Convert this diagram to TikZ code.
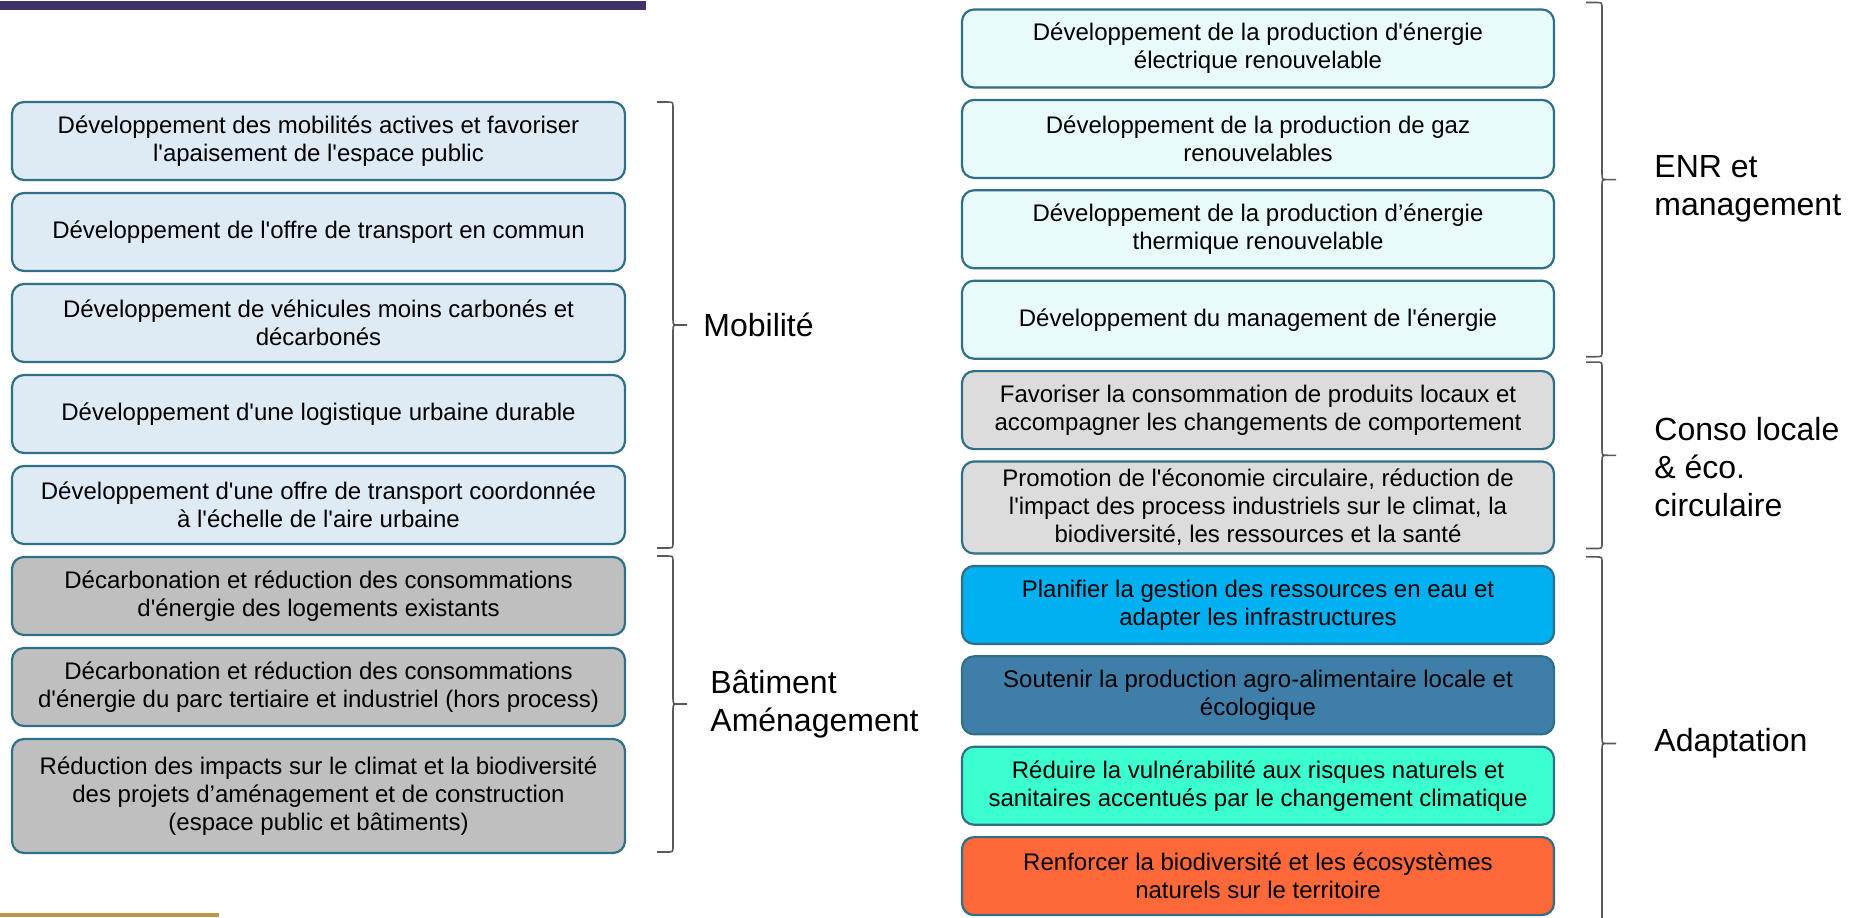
\documentclass[tikz,border=0pt]{standalone}
\usepackage{fontspec}
\setmainfont{Liberation Sans}[Ligatures=TeXOff]
\usepackage{xcolor}
\usetikzlibrary{positioning,calc}
\definecolor{bord}{RGB}{47,112,136}
\definecolor{mobfill}{RGB}{222,235,245}
\definecolor{batfill}{RGB}{191,191,191}
\definecolor{enrfill}{RGB}{232,250,249}
\definecolor{consofill}{RGB}{220,220,220}
\definecolor{eau}{RGB}{0,176,240}
\definecolor{agro}{RGB}{62,126,168}
\definecolor{risque}{RGB}{60,255,208}
\definecolor{biodiv}{RGB}{255,105,58}
\definecolor{violet}{RGB}{65,50,105}
\definecolor{dore}{RGB}{190,150,70}
\definecolor{trait}{RGB}{89,89,89}

\newcommand\accolade[2]{%
    \draw[accolade] let \p1=(#1), \p2=(#2), \n1={0.5*(\y1+\y2)} in
        (\p1) -- (\x1+5pt,\y1) .. controls (\x1+8pt,\y1) .. (\x1+8pt,\y1-3pt) -- (\x1+8pt,\n1+3pt)
        .. controls (\x1+8pt,\n1) .. (\x1+11pt,\n1) -- (\x1+15pt,\n1)
        (\x1+11pt,\n1) .. controls (\x1+8pt,\n1) .. (\x1+8pt,\n1-3pt) -- (\x1+8pt,\y2+3pt)
        .. controls (\x1+8pt,\y2) .. (\x1+5pt,\y2) -- (\p2);}

\begin{document}
\begin{tikzpicture}[x=0.5pt, y=-0.5pt,
        every node/.style={font=\fontsize{12}{14}\selectfont, align=center},
        box/.style={draw=bord, line width=1.1pt, rounded corners=6pt, minimum width=306.5pt, minimum height=39pt, inner sep=2pt, outer sep=0pt},
        rbox/.style={box, minimum width=296pt},
        accolade/.style={draw=trait, line width=0.8pt},
        groupe/.style={font=\fontsize{16}{19}\selectfont, align=left, anchor=west, inner sep=0pt}]
    \useasboundingbox (0,0) rectangle (1856,917);
    \fill[violet] (0,1) rectangle (646,10);
    \fill[dore] (0,913) rectangle (219,917);

    \node[box, fill=mobfill] (m1) at (318.5,141) {Développement des mobilités actives et favoriser\\l'apaisement de l'espace public};
    \node[box, fill=mobfill, below=6.5pt of m1] (m2) {Développement de l'offre de transport en commun};
    \node[box, fill=mobfill, below=6.5pt of m2] (m3) {Développement de véhicules moins carbonés et\\décarbonés};
    \node[box, fill=mobfill, below=6.5pt of m3] (m4) {Développement d'une logistique urbaine durable};
    \node[box, fill=mobfill, below=6.5pt of m4] (m5) {Développement d'une offre de transport coordonnée\\à l'échelle de l'aire urbaine};
    \node[box, fill=batfill, below=6.5pt of m5] (m6) {Décarbonation et réduction des consommations\\d'énergie des logements existants};
    \node[box, fill=batfill, below=6.5pt of m6] (m7) {Décarbonation et réduction des consommations\\d'énergie du parc tertiaire et industriel (hors process)};
    \node[box, fill=batfill, below=6.5pt of m7, minimum height=57pt] (m8) {Réduction des impacts sur le climat et la biodiversité\\des projets d’aménagement et de construction\\(espace public et bâtiments)};

    \node[rbox, fill=enrfill] (r1) at (1258,48.5) {Développement de la production d'énergie\\électrique renouvelable};
    \node[rbox, fill=enrfill, below=6.2pt of r1] (r2) {Développement de la production de gaz\\renouvelables};
    \node[rbox, fill=enrfill, below=6.2pt of r2] (r3) {Développement de la production d’énergie\\thermique renouvelable};
    \node[rbox, fill=enrfill, below=6.2pt of r3] (r4) {Développement du management de l'énergie};
    \node[rbox, fill=consofill, below=6.2pt of r4] (r5) {Favoriser la consommation de produits locaux et\\accompagner les changements de comportement};
    \node[rbox, fill=consofill, below=6.2pt of r5, minimum height=46pt] (r6) {Promotion de l'économie circulaire, réduction de\\l'impact des process industriels sur le climat, la\\biodiversité, les ressources et la santé};
    \node[rbox, fill=eau, below=6.2pt of r6] (r7) {Planifier la gestion des ressources en eau et\\adapter les infrastructures};
    \node[rbox, fill=agro, below=6.2pt of r7] (r8) {Soutenir la production agro-alimentaire locale et\\écologique};
    \node[rbox, fill=risque, below=6.2pt of r8] (r9) {Réduire la vulnérabilité aux risques naturels et\\sanitaires accentués par le changement climatique};
    \node[rbox, fill=biodiv, below=6.2pt of r9] (r10) {Renforcer la biodiversité et les écosystèmes\\naturels sur le territoire};

    \coordinate (mobh) at ($(m1.north east)+(32,0)$);
    \coordinate (mobb) at ($(m5.south east)+(32,4)$);
    \coordinate (bath) at ($(m6.north east)+(32,-1)$);
    \coordinate (batb) at ($(m8.south east)+(32,-1)$);
    \coordinate (enrh) at ($(r1.north east)+(32,-7)$);
    \coordinate (enrb) at ($(r4.south east)+(32,-2)$);
    \coordinate (consoh) at ($(r5.north east)+(32,-9)$);
    \coordinate (consob) at ($(r6.south east)+(32,-5)$);
    \coordinate (adapth) at ($(r7.north east)+(32,-9)$);
    \coordinate (adaptb) at ($(r10.south east)+(32,15)$);

    \accolade{mobh}{mobb}
    \accolade{bath}{batb}
    \accolade{enrh}{enrb}
    \accolade{consoh}{consob}
    \accolade{adapth}{adaptb}

    \node[groupe] (gmob) at ($(mobh)!.5!(mobb)+(46,0)$) {Mobilité};
    \node[groupe] (gbat) at ($(bath)!.5!(batb)+(53,0)$) {Bâtiment\\Aménagement};
    \node[groupe] (genr) at ($(enrh)!.5!(enrb)+(68,9)$) {ENR et\\management};
    \node[groupe] (gconso) at ($(consoh)!.5!(consob)+(68,12)$) {Conso locale\\\& éco.\\circulaire};
    \node[groupe] (gadapt) at ($(adapth)!.5!(adaptb)+(68,0)$) {Adaptation};
\end{tikzpicture}
\end{document}
